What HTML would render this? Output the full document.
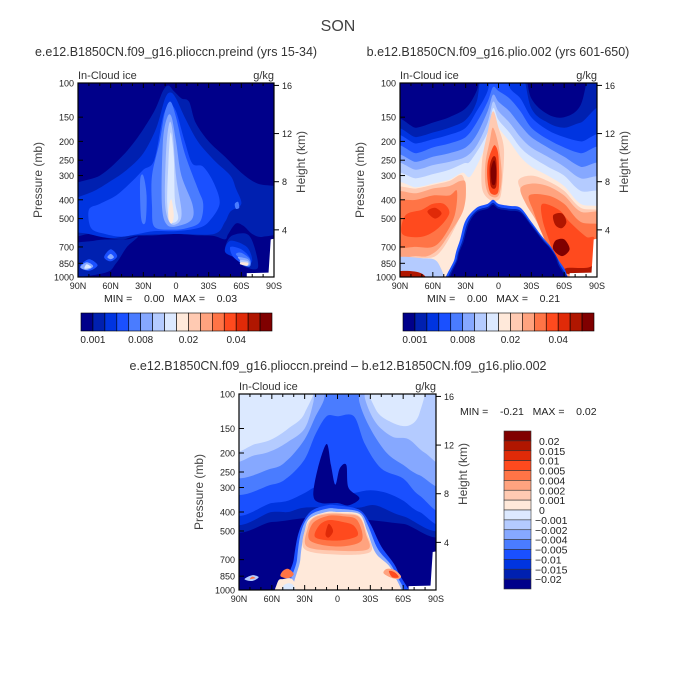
<!DOCTYPE html>
<html><head><meta charset="utf-8">
<style>
html,body{margin:0;padding:0;background:#fff;}
svg{display:block;font-family:"Liberation Sans",sans-serif;}
</style></head>
<body>
<svg id="fig" width="675" height="674" viewBox="0 0 675 674" xmlns="http://www.w3.org/2000/svg">
<text x="338" y="31" font-size="16" text-anchor="middle" fill="#444">SON</text>
<text x="176" y="56" font-size="12.5" text-anchor="middle" fill="#333">e.e12.B1850CN.f09_g16.plioccn.preind (yrs 15-34)</text>
<text x="498" y="56" font-size="12.5" text-anchor="middle" fill="#333">b.e12.B1850CN.f09_g16.plio.002 (yrs 601-650)</text>
<text x="338" y="370" font-size="12.5" text-anchor="middle" fill="#333">e.e12.B1850CN.f09_g16.plioccn.preind – b.e12.B1850CN.f09_g16.plio.002</text>
<g id="layer"></g>
</svg>
<script>
// ---- data ----
const latTicks = [90,60,30,0,-30,-60,-90];
const latTickLabels = ["90N","60N","30N","0","30S","60S","90S"];
const presTicks = [100,150,200,250,300,400,500,700,850,1000];
const heightTicks = [16,12,8,4];
const absColors = ["#00008a","#0020b0","#0034e0","#1a50ff","#4a7cff","#86a8ff","#b4cbff","#dce9ff","#ffe9da","#ffcab2","#ffa37f","#ff7446","#ff4a1e","#e02a08","#b01600","#800000"];
const absLabels = ["0.001","0.008","0.02","0.04"];
const absLabelIdx = [1,5,9,13];
const diffLabels = ["0.02","0.015","0.01","0.005","0.004","0.002","0.001","0","-0.001","-0.002","-0.004","-0.005","-0.01","-0.015","-0.02"];
const panel1Min = "0.00", panel1Max = "0.03";
const panel2Min = "0.00", panel2Max = "0.21";
const panel3Min = "-0.21", panel3Max = "0.02";

// contour polygons: [colorIndex, [[lat,p],...]]
const field1 = [
 [1,[[90,355],[70,300],[50,240],[35,190],[20,140],[12,110],[7,103],[2,110],[-5,120],[-12,125],[-18,160],[-30,200],[-45,240],[-60,290],[-75,330],[-90,360],[-90,560],[-80,620],[-70,600],[-62,545],[-55,530],[-48,600],[-45,640],[-35,615],[-20,610],[0,600],[20,610],[37,615],[50,640],[70,620],[80,600],[90,600]]],
 [1,[[90,700],[75,650],[60,640],[45,640],[35,620],[45,700],[55,850],[65,950],[90,980]]],
 [1,[[-50,620],[-45,740],[-55,800],[-62,880],[-75,900],[-72,700],[-65,600]]],
 [2,[[90,420],[75,360],[60,320],[45,280],[30,230],[18,170],[10,120],[5,112],[0,120],[-8,150],[-20,200],[-35,250],[-50,300],[-55,350],[-60,420],[-50,460],[-45,520],[-35,600],[0,600],[40,610],[60,630],[80,600],[90,560]]],
 [2,[[-50,650],[-45,740],[-55,800],[-62,860],[-70,830],[-65,700]]],
 [3,[[80,450],[70,420],[55,380],[40,320],[30,280],[20,250],[12,150],[6,130],[0,140],[-8,200],[-15,260],[-25,270],[-35,330],[-40,420],[-30,520],[-20,560],[0,580],[20,580],[35,600],[50,620],[65,600],[78,560]]],
 [3,[[-50,700],[-52,780],[-60,850],[-66,880],[-68,800],[-60,720]]],
 [3,[[60,720],[54,780],[60,830],[66,790]]],
 [3,[[80,810],[72,870],[80,930],[88,880]]],
 [4,[[22,300],[15,200],[10,140],[5,125],[0,150],[-8,230],[-20,350],[-25,420],[-22,520],[-10,560],[5,570],[20,550],[22,430]]],
 [4,[[33,320],[30,300],[27,380],[28,520],[32,500]]],
 [4,[[-55,760],[-58,800],[-62,870],[-68,880],[-68,810],[-60,750]]],
 [4,[[-54,420],[-57,410],[-58,440],[-55,445]]],
 [5,[[12,200],[8,150],[4,150],[0,200],[-5,300],[-15,420],[-15,500],[-5,540],[8,540],[13,420]]],
 [5,[[60,760],[57,790],[60,810],[63,790]]],
 [5,[[82,840],[76,880],[82,920],[88,890]]],
 [5,[[-57,790],[-60,830],[-64,875],[-68,860],[-66,810]]],
 [6,[[9,220],[6,160],[3,180],[0,300],[-5,450],[-3,520],[5,530],[10,420]]],
 [6,[[-59,820],[-60,860],[-66,875],[-66,830]]],
 [7,[[7,260],[5,180],[2,240],[1,400],[-2,500],[5,520],[8,420]]],
 [7,[[82,860],[78,890],[84,905]]],
 [8,[[6,420],[4,400],[2,480],[4,530],[7,500]]],
 [8,[[-60,840],[-59,860],[-65,875],[-66,845]]]
];
const field2 = [
 [1,[[90,175],[75,170],[60,160],[45,150],[30,135],[20,110],[12,100],[-20,100],[-30,120],[-45,145],[-60,150],[-75,130],[-85,100],[-90,100],[-90,1000],[90,1000]]],
 [2,[[90,195],[75,190],[60,180],[45,170],[30,155],[20,125],[12,100],[-18,100],[-30,135],[-45,160],[-60,170],[-75,160],[-90,150],[-90,1000],[90,1000]]],
 [3,[[90,210],[75,205],[60,195],[45,185],[30,170],[20,140],[10,110],[5,100],[-5,100],[-10,105],[-20,120],[-30,150],[-45,175],[-60,190],[-75,200],[-90,210],[-90,1000],[90,1000]]],
 [4,[[90,235],[75,230],[60,215],[45,205],[30,190],[20,160],[10,125],[5,105],[0,110],[-10,120],[-20,140],[-30,170],[-45,195],[-60,215],[-75,230],[-90,240],[-90,1000],[90,1000]]],
 [5,[[90,260],[75,255],[60,240],[45,230],[30,215],[20,185],[10,140],[5,115],[0,125],[-10,140],[-20,165],[-30,190],[-45,215],[-60,240],[-75,270],[-90,290],[-90,1000],[90,1000]]],
 [6,[[90,285],[75,280],[60,265],[45,255],[30,240],[20,210],[10,160],[5,125],[0,140],[-10,160],[-20,190],[-30,215],[-45,240],[-60,270],[-75,310],[-90,340],[-90,1000],[90,1000]]],
 [7,[[90,320],[75,310],[60,295],[45,280],[32,260],[25,250],[10,180],[5,135],[0,155],[-10,180],[-20,215],[-30,240],[-45,270],[-60,300],[-75,360],[-90,400],[-90,1000],[90,1000]]],
 [8,[[90,355],[75,345],[60,330],[45,315],[33,290],[25,300],[10,200],[5,150],[0,170],[-10,200],[-20,240],[-30,270],[-45,300],[-60,340],[-75,420],[-90,480],[-90,1000],[90,1000]]],
 [9,[[90,365],[75,350],[60,335],[45,320],[33,300],[30,400],[40,560],[55,760],[70,800],[90,780]]],
 [9,[[-18,320],[-30,300],[-45,320],[-60,360],[-75,440],[-90,500],[-90,1000],[-60,960],[-52,820],[-45,700],[-35,520],[-25,400]]],
 [10,[[90,380],[75,370],[60,350],[45,340],[35,320],[30,330],[32,450],[45,600],[55,720],[65,780],[75,780],[90,750]]],
 [10,[[-20,350],[-30,330],[-45,340],[-60,380],[-75,460],[-90,500],[-90,1000],[-60,960],[-52,820],[-45,700],[-35,520],[-25,420]]],
 [11,[[90,420],[75,400],[60,380],[45,380],[38,360],[40,480],[50,620],[60,700],[75,700],[90,680]]],
 [11,[[-28,380],[-45,380],[-60,420],[-75,520],[-90,580],[-90,1000],[-62,950],[-50,780],[-40,600],[-32,460]]],
 [12,[[85,480],[70,450],[60,420],[50,420],[45,470],[55,560],[70,620],[88,600]]],
 [12,[[-40,420],[-55,450],[-65,520],[-80,620],[-88,640],[-88,950],[-62,950],[-52,780],[-45,620],[-40,500]]],
 [13,[[65,460],[58,440],[52,470],[58,500]]],
 [14,[[-50,480],[-58,470],[-62,520],[-58,560],[-52,540]]],
 [15,[[-52,650],[-60,640],[-65,720],[-58,780],[-50,720]]],
 [14,[[-62,900],[-85,880],[-88,700],[-85,960],[-62,960]]],
 [6,[[90,820],[70,800],[55,850],[50,1000],[90,1000]]],
 [14,[[90,960],[70,960],[62,1000],[90,1000]]],
 [9,[[15,250],[10,180],[5,140],[0,170],[-5,220],[-3,350],[0,400],[8,400],[15,350]]],
 [10,[[12,260],[8,200],[5,170],[0,210],[-3,300],[0,380],[8,380],[12,330]]],
 [12,[[10,260],[6,220],[3,210],[0,240],[0,360],[7,370],[10,320]]],
 [14,[[8,270],[5,240],[2,250],[2,340],[7,340]]],
 [15,[[7,280],[4,250],[2,280],[3,330],[6,330]]],
 [3,[[44,1000],[40,800],[35,640],[30,510],[20,440],[10,420],[5,400],[0,420],[-10,430],[-20,440],[-30,520],[-40,620],[-48,700],[-55,820],[-62,960],[-62,1000]]],
 [1,[[42,1000],[38,800],[33,650],[28,520],[20,455],[10,435],[5,415],[0,435],[-10,445],[-20,455],[-30,535],[-40,635],[-48,715],[-55,840],[-61,1000]]],
 [0,[[40,1000],[37,800],[32,660],[27,530],[20,465],[10,445],[5,425],[0,445],[-10,455],[-20,465],[-30,545],[-40,645],[-48,725],[-54,850],[-60,1000]]]
];
const field3 = [
 [1,[[90,100],[90,450],[60,450],[30,430],[0,430],[-30,440],[-60,460],[-90,480],[-90,100]]],
 [2,[[90,100],[90,420],[60,400],[45,400],[30,380],[0,380],[-20,380],[-35,370],[-60,420],[-90,450],[-90,100]]],
 [3,[[90,100],[90,380],[60,360],[45,350],[30,320],[20,300],[10,320],[0,330],[-15,320],[-30,310],[-45,320],[-60,350],[-75,400],[-90,420],[-90,100]]],
 [4,[[90,100],[90,300],[60,290],[45,265],[30,215],[20,160],[10,130],[0,130],[-15,130],[-25,180],[-40,240],[-60,270],[-75,330],[-90,370],[-90,100]]],
 [5,[[90,100],[90,250],[60,240],[45,215],[30,170],[20,130],[12,105],[10,100],[-18,100],[-20,110],[-30,150],[-45,200],[-60,230],[-75,260],[-90,280],[-90,100]]],
 [6,[[90,100],[90,210],[75,205],[60,195],[45,175],[30,150],[22,110],[18,100],[-24,100],[-25,105],[-35,140],[-50,165],[-65,170],[-80,200],[-90,220],[-90,100]]],
 [7,[[90,100],[90,190],[75,180],[60,170],[45,150],[30,125],[24,100]]],
 [7,[[-28,100],[-35,120],[-50,140],[-65,145],[-75,125],[-78,100]]],
 [0,[[22,330],[18,240],[10,180],[6,230],[2,290],[-2,240],[-8,230],[-10,300],[-20,340],[-10,370],[0,360],[15,360]]],
 [3,[[45,1000],[40,700],[35,500],[25,400],[10,370],[0,370],[-20,390],[-30,460],[-40,600],[-55,800],[-62,1000]]],
 [5,[[40,1000],[37,700],[33,500],[25,415],[10,385],[0,385],[-20,400],[-28,470],[-37,620],[-52,800],[-58,1000]]],
 [8,[[36,1000],[34,700],[30,500],[25,430],[10,400],[0,400],[-20,410],[-27,500],[-35,650],[-50,800],[-55,1000]]],
 [9,[[30,620],[29,480],[22,425],[10,405],[-5,405],[-20,420],[-27,520],[-30,640],[0,660]]],
 [10,[[28,600],[27,480],[22,430],[10,410],[-5,410],[-20,425],[-26,520],[-28,620],[0,630]]],
 [11,[[25,560],[23,460],[10,420],[-5,420],[-18,440],[-22,560],[0,600]]],
 [12,[[20,540],[17,470],[8,440],[-5,450],[-15,470],[-18,530],[0,560]]],
 [13,[[11,520],[8,460],[4,500],[8,540]]],
 [8,[[60,1000],[55,920],[50,880],[40,900],[36,1000]]],
 [11,[[50,800],[45,780],[40,830],[45,870],[52,850]]],
 [10,[[-45,780],[-52,790],[-58,850],[-55,880],[-48,860],[-42,820]]],
 [12,[[-47,800],[-52,810],[-56,860],[-50,860]]],
 [6,[[78,840],[72,860],[78,900],[85,880]]],
 [11,[[78,855],[75,870],[80,880]]],
 [7,[[55,1000],[50,960],[40,950],[36,1000]]]
];
const missing = [[-65,1000],[-65,955],[-85,950],[-87,640],[-90,620],[-90,1000]];

// ---- drawing ----
const NS="http://www.w3.org/2000/svg";
const layer=document.getElementById('layer');
function mk(tag,attrs,parent){const e=document.createElementNS(NS,tag);for(const k in attrs)e.setAttribute(k,attrs[k]);(parent||layer).appendChild(e);return e;}
function smoothPath(pts){
  const n=pts.length;let d="M"+pts[0][0].toFixed(1)+","+pts[0][1].toFixed(1);
  for(let i=0;i<n;i++){
    const p0=pts[(i-1+n)%n],p1=pts[i],p2=pts[(i+1)%n],p3=pts[(i+2)%n];
    const t=0.16;
    const c1=[p1[0]+(p2[0]-p0[0])*t,p1[1]+(p2[1]-p0[1])*t];
    const c2=[p2[0]-(p3[0]-p1[0])*t,p2[1]-(p3[1]-p1[1])*t];
    d+="C"+c1[0].toFixed(1)+","+c1[1].toFixed(1)+" "+c2[0].toFixed(1)+","+c2[1].toFixed(1)+" "+p2[0].toFixed(1)+","+p2[1].toFixed(1);
  }
  return d+"Z";
}
function ext(la,p){
  if(la>=90)la=100; else if(la<=-90)la=-100;
  if(p<=100)p=80; else if(p>=1000)p=1250;
  return [la,p];
}
function panel(id,L,T,W,H,field,bg,minS,maxS,minX,minY){
  const xS=lat=>L+(90-lat)/180*W;
  const yS=p=>T+Math.log10(p/100)*H;
  const g=mk('g',{});
  
  
  const cp=mk('clipPath',{id:id+'-clip'},g);mk('rect',{x:L,y:T,width:W,height:H},cp);
  const plot=mk('g',{'clip-path':'url(#'+id+'-clip)'},g);
  
  
  mk('rect',{x:L,y:T,width:W,height:H,fill:absColors[bg]},plot);
  field.forEach(([c,pts])=>{
    const px=pts.map(([la,p])=>{const e=ext(la,p);return [xS(e[0]),yS(e[1])];});
    const el=mk('path',{d:smoothPath(px),fill:absColors[c]},plot);
    
    
  });
  const ms=mk('polygon',{points:missing.map(([la,p])=>{const e=ext(la,p);return xS(e[0])+','+yS(e[1]);}).join(' '),fill:'#fff'},plot);
  
  
  const fr=mk('rect',{x:L,y:T,width:W,height:H,fill:'none',stroke:'#000','stroke-width':1.2},g);
  
  
  for(let la=90;la>=-90;la-=10){const x=xS(la);const big=la%30===0;
    mk('line',{x1:x,y1:T+H,x2:x,y2:T+H-(big?5:3),stroke:'#000'},g);
    mk('line',{x1:x,y1:T,x2:x,y2:T+(big?5:3),stroke:'#000'},g);}
  latTicks.forEach((la,i)=>{const t=mk('text',{x:xS(la),y:T+H+12,'font-size':9,'text-anchor':'middle',fill:'#222'},g);t.textContent=latTickLabels[i];
    });
  presTicks.forEach(p=>{const y=yS(p);mk('line',{x1:L,y1:y,x2:L+5,y2:y,stroke:'#000'},g);
    const t=mk('text',{x:L-4,y:y+3.5,'font-size':9,'text-anchor':'end',fill:'#222'},g);t.textContent=p;
    });
  heightTicks.forEach(h=>{const p=1000*Math.exp(-h/7);const y=yS(p)+1;mk('line',{x1:L+W,y1:y,x2:L+W+5,y2:y,stroke:'#000'},g);
    const t=mk('text',{x:L+W+8,y:y+3.5,'font-size':9,fill:'#222'},g);t.textContent=h;
    });
  const yl=mk('text',{x:0,y:0,'font-size':12,'text-anchor':'middle',fill:'#444',transform:`translate(${L-36},${T+H/2}) rotate(-90)`},g);yl.textContent='Pressure (mb)';
  
  const yr=mk('text',{x:0,y:0,'font-size':12,'text-anchor':'middle',fill:'#444',transform:`translate(${L+W+31},${T+H/2-18}) rotate(-90)`},g);yr.textContent='Height (km)';
  
  const lt=mk('text',{x:L,y:T-4,'font-size':11,fill:'#333'},g);lt.textContent='In-Cloud ice';
  
  const ut=mk('text',{x:L+W,y:T-4,'font-size':11,'text-anchor':'end',fill:'#333'},g);ut.textContent='g/kg';
  
  const mm=mk('text',{x:minX,y:minY,'font-size':10.5,fill:'#222',style:'white-space:pre'},g);
  mm.textContent='MIN =    '+minS+'   MAX =    '+maxS;
  
}
panel('panel1',78,83,196,194,field1,0,panel1Min,panel1Max,104,302);
panel('panel2',400,83,197,194,field2,0,panel2Min,panel2Max,427,302);
panel('panel3',239,394,197,196,field3,0,panel3Min,panel3Max,460,415);

function hbar(id,x0,x1,y,h){
  const g=mk('g',{});
  const w=(x1-x0)/absColors.length;
  absColors.forEach((c,i)=>{const r=mk('rect',{x:x0+i*w,y:y,width:w,height:h,fill:c,stroke:'#000','stroke-width':0.6},g);
    });
  absLabels.forEach((s,i)=>{const t=mk('text',{x:x0+absLabelIdx[i]*w,y:y+h+12,'font-size':10,'text-anchor':'middle',fill:'#222'},g);t.textContent=s;
    });
}
hbar('panel1-colorbar',81,272,313,18);
hbar('panel2-colorbar',403,594,313,18);
(function(){
  const g=mk('g',{});
  const x=504,y0=431,h=(589-431)/16;
  for(let i=0;i<16;i++){const r=mk('rect',{x:x,y:y0+i*h,width:27,height:h,fill:absColors[15-i],stroke:'#333','stroke-width':0.6},g);
    }
  diffLabels.forEach((s,i)=>{const t=mk('text',{x:s[0]==='-'?535:539,y:y0+(i+1)*h+4,'font-size':10.5,fill:'#222'},g);t.textContent=s.replace('-','−');
    });
})();
</script>
</body></html>
